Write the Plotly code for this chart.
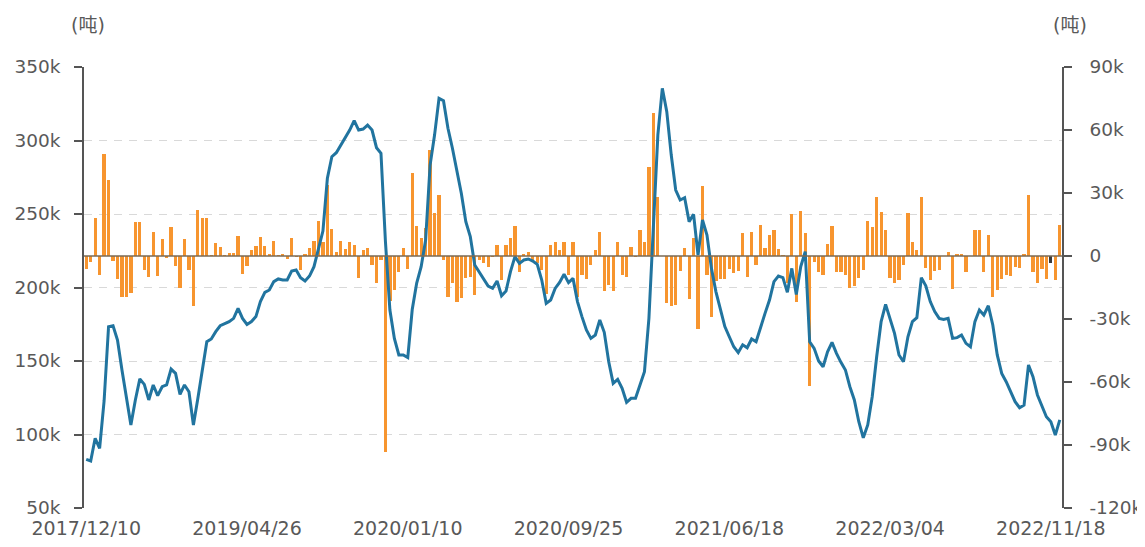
import plotly.graph_objects as go

# ---------------- data ----------------
TICK_LABELS = ["2017/12/10", "2019/04/26", "2020/01/10", "2020/09/25",
               "2021/06/18", "2022/03/04", "2022/11/18"]
LABEL_STEP = 36  # one date label every 36 weekly categories

# inventory (left axis, thousand tonnes)
inventory_k = [
    83.1, 82.0, 97.4, 90.6, 122.8, 173.3, 174.0, 164.3, 143.9, 123.5,
    106.5, 123.5, 137.8, 134.1, 123.5, 133.7, 126.4, 132.5, 133.7, 144.5,
    141.6, 127.3, 133.7, 129.1, 106.5, 124.6, 143.9, 163.1, 165.0, 170.0,
    174.0, 175.4, 176.8, 179.0, 185.8, 179.0, 174.9, 176.8, 180.2, 190.4,
    196.7, 198.3, 204.0, 205.8, 205.1, 205.1, 211.2, 211.9, 206.7, 204.4,
    207.8, 214.2, 225.5, 238.4, 274.3, 289.0, 291.7, 296.9, 301.5, 307.1,
    313.5, 307.1, 307.8, 310.5, 307.1, 295.1, 291.3, 231.2, 184.7, 165.4,
    154.1, 154.1, 152.3, 185.0, 203.0, 214.2, 232.3, 283.3, 303.7, 328.7,
    327.1, 308.3, 294.7, 279.9, 264.0, 244.8, 234.6, 215.3, 210.3, 205.1,
    201.0, 199.4, 204.4, 194.4, 197.6, 210.8, 221.0, 216.4, 218.7, 219.4,
    218.0, 215.7, 205.1, 189.2, 191.5, 199.4, 203.5, 209.0, 203.3, 206.2,
    190.4, 180.2, 171.1, 165.4, 167.7, 177.9, 169.5, 149.5, 134.8, 137.5,
    131.4, 121.9, 124.6, 124.6, 133.7, 142.7, 179.0, 244.8, 303.7, 335.5,
    319.6, 290.1, 266.3, 259.5, 261.1, 244.8, 249.8, 222.1, 245.9, 235.7,
    213.0, 197.2, 185.8, 173.4, 166.5, 159.7, 155.7, 161.0, 159.0, 165.0,
    163.1, 173.3, 182.4, 191.5, 204.0, 207.8, 206.7, 196.7, 213.0, 195.3,
    214.2, 224.4, 163.1, 158.6, 150.0, 146.1, 156.3, 162.7, 155.2, 149.1,
    143.9, 132.5, 123.5, 108.7, 97.8, 106.5, 125.7, 152.9, 176.8, 188.5,
    179.0, 168.8, 154.1, 149.5, 166.5, 176.8, 179.5, 206.7, 201.2, 190.4,
    183.6, 179.0, 178.3, 179.0, 165.4, 165.9, 167.7, 162.0, 159.7, 176.8,
    184.7, 181.3, 187.6, 174.5, 154.1, 141.6, 135.9, 128.7, 122.3, 118.2,
    120.0, 147.3, 139.3, 126.9, 120.0, 112.1, 108.7, 99.6, 109.9,
]

# weekly change (right axis, thousand tonnes)
change_k = [
    -6.3, -2.7, 17.9, -9.0, 48.6, 36.2, -2.4, -11.1, -19.7, -19.7,
    -17.8, 16.2, 16.2, -6.7, -9.8, 11.3, -9.5, 8.1, -1.1, 13.6,
    -4.6, -15.4, 8.1, -6.7, -23.6, 21.9, 18.3, 18.3, 0.2, 6.0,
    4.1, 0.3, 1.6, 1.3, 9.7, -8.5, -4.7, 2.9, 4.8, 9.2,
    4.8, 0.5, 7.3, 0.3, 0.5, -1.3, 8.4, -0.3, -6.7, 0.5,
    4.0, 7.1, 16.8, 6.8, 33.8, 12.7, 1.7, 7.1, 3.5, 6.5,
    5.1, -10.6, 2.9, 3.7, -4.3, -13.0, -2.0, -93.5, -21.6, -16.2,
    -7.5, 3.7, -6.3, 39.4, 14.3, 8.4, 13.2, 50.5, 20.3, 29.0,
    -1.9, -19.5, -13.0, -21.7, -20.0, -10.6, -9.8, -18.6, -1.9, -3.5,
    -5.4, -0.3, 5.2, -11.6, 5.2, 8.6, 14.3, -7.5, 1.1, 2.1,
    -1.7, -3.3, -6.5, -17.9, 5.2, 6.8, 3.0, 6.8, -8.9, 6.8,
    -19.3, -9.0, -11.0, -4.1, 2.9, 11.6, -16.8, -13.8, -16.8, 6.8,
    -9.0, -9.8, 4.4, -0.3, 12.4, 6.8, 42.2, 68.2, 28.2, 0.0,
    -22.5, -24.0, -23.3, -7.3, 3.7, -20.6, 8.4, -34.8, 33.3, -9.0,
    -28.9, -11.7, -11.1, -11.1, -6.3, -8.3, -7.0, 10.9, -9.8, 11.6,
    -4.3, 14.8, 3.7, 10.0, 12.4, 3.2, 0.3, -13.0, 20.0, -21.7,
    21.6, 10.8, -62.0, -2.7, -7.5, -9.0, 5.9, 14.3, -7.5, -7.5,
    -9.0, -15.4, -14.3, -10.6, -6.7, 16.8, 14.0, 28.1, 20.8, 12.4,
    -10.6, -12.7, -11.2, -4.3, 20.7, 6.8, 2.7, 28.1, -5.7, -11.6,
    -7.3, -6.8, 0.0, 1.9, -15.6, 0.8, 1.1, -7.6, 0.0, 12.2,
    12.5, -7.6, 9.8, -19.5, -16.3, -10.8, -8.9, -9.7, -5.2, -5.7,
    0.8, 29.2, -7.6, -13.0, -6.0, -11.0, -3.5, -11.5, 14.6,
]

LEFT_TICKS = [350000, 300000, 250000, 200000, 150000, 100000, 50000]
LEFT_TEXT = ["350k", "300k", "250k", "200k", "150k", "100k", "50k"]
RIGHT_TICKS = [90000, 60000, 30000, 0, -30000, -60000, -90000, -120000]
RIGHT_TEXT = ["90k", "60k", "30k", "0", "-30k", "-60k", "-90k", "-120k"]

assert len(inventory_k) == len(change_k)
N = len(inventory_k)
x = list(range(N))
inventory = [v * 1000 for v in inventory_k]
change = [v * 1000 for v in change_k]

# ---------------- styles ----------------
BLUE = "#21749f"
ORANGE = "#f7952f"
AXIS = "#555555"
TEXT = "#595959"
FONT = "DejaVu Sans, Verdana, Noto Sans CJK SC, sans-serif"
FS = 18.5

bar_colors = [ORANGE] * N
bar_colors[216] = "#3a3a3a"

fig = go.Figure()
fig.add_trace(go.Bar(
    x=x, y=change, yaxis="y", width=0.72,
    marker=dict(color=bar_colors, line=dict(width=0)),
    name="变化", showlegend=False,
))
fig.add_trace(go.Scatter(
    x=x, y=inventory, yaxis="y2", mode="lines",
    line=dict(color=BLUE, width=3),
    name="库存", showlegend=False,
))

# the page body adds an 8px margin, so the figure is sized to fit inside it
fig.update_layout(
    width=1137, height=539,
    margin=dict(l=76, r=83, t=59, b=39, pad=0, autoexpand=False),
    paper_bgcolor="white", plot_bgcolor="white",
    font=dict(family=FONT, size=FS, color=TEXT),
    bargap=0,
    xaxis=dict(
        range=[-0.5, N - 0.5], automargin=False,
        tickmode="array",
        tickvals=[i * LABEL_STEP for i in range(len(TICK_LABELS))],
        ticktext=TICK_LABELS,
        showgrid=False, zeroline=False, showline=False, ticks="",
        ticklabelstandoff=7,
        tickfont=dict(size=FS + 0.5, color=TEXT),
    ),
    # bars: right axis (base)
    yaxis=dict(
        side="right", automargin=False,
        range=[-120000, 90000],
        tickmode="array", tickvals=RIGHT_TICKS, ticktext=RIGHT_TEXT,
        showgrid=False, zeroline=False,
        showline=True, linecolor=AXIS, linewidth=1.5,
        ticks="outside", ticklen=8, tickcolor=AXIS, tickwidth=1.5,
        ticklabelstandoff=14,
        tickfont=dict(size=FS, color=TEXT),
    ),
    # line: left axis (overlaying so the line sits above the bars)
    yaxis2=dict(
        side="left", overlaying="y", automargin=False,
        range=[50000, 350000],
        tickmode="array", tickvals=LEFT_TICKS, ticktext=LEFT_TEXT,
        showgrid=True, gridcolor="#d9d9d9", gridwidth=1, griddash="8px,7px",
        zeroline=False,
        showline=True, linecolor=AXIS, linewidth=1.5,
        ticks="outside", ticklen=8, tickcolor=AXIS, tickwidth=1.5,
        ticklabelstandoff=10,
        tickfont=dict(size=FS, color=TEXT),
    ),
    shapes=[dict(
        type="line", xref="paper", x0=0, x1=1, yref="y", y0=0, y1=0,
        line=dict(color="#7a6a55", width=1.5), layer="above",
    )],
    annotations=[
        dict(text="(吨)", xref="paper", yref="paper", x=0.0, y=1.0,
             xanchor="center", yanchor="middle", yshift=42, xshift=4,
             showarrow=False, font=dict(size=19, color=TEXT)),
        dict(text="(吨)", xref="paper", yref="paper", x=1.0, y=1.0,
             xanchor="center", yanchor="middle", yshift=42, xshift=8,
             showarrow=False, font=dict(size=19, color=TEXT)),
    ],
)

fig.write_html("out.html")
